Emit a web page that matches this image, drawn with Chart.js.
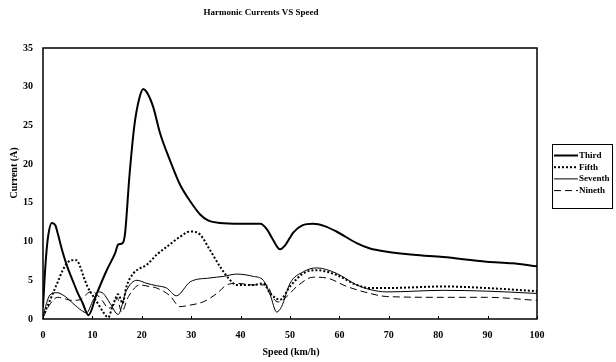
<!DOCTYPE html>
<html>
<head>
<meta charset="utf-8">
<script src="https://cdn.jsdelivr.net/npm/chart.js@4"></script>
<style>
  html, body { margin: 0; padding: 0; background: #fff; }
  canvas { display: block; }
</style>
</head>
<body>
<canvas id="chart" width="616" height="362"></canvas>
<script>
// Values
const seriesNames = ['Third', 'Fifth', 'Seventh', 'Nineth'];
const xTicks = [0, 10, 20, 30, 40, 50, 60, 70, 80, 90, 100];
const yTicks = [0, 5, 10, 15, 20, 25, 30, 35];

const thirdSpeed = [0, 0.5, 1, 1.8, 2.5, 3, 4, 5, 6, 7, 8, 9.2, 10.9, 12.9, 14.6, 15.2, 16.1, 16.6, 17.5, 18.5, 19.5, 20.3, 21, 22.3, 23.7, 25.7, 27.7, 29.8, 31.8, 33.5, 35.8, 40, 44, 45.3, 46.5, 48, 49, 50.7, 52.5, 54.7, 57, 59.4, 63.5, 66.2, 69.6, 75, 81, 89.8, 95, 100];
const thirdCurrent = [1.5, 7, 10.5, 12.4, 12.1, 11, 8.6, 6.6, 5, 3.4, 2.1, 0.5, 3.3, 6.3, 8.5, 9.6, 9.8, 11, 18.5, 25, 28.5, 29.7, 29.3, 27.4, 24, 20.5, 17.4, 15.2, 13.5, 12.7, 12.4, 12.3, 12.3, 11.6, 10.3, 9.0, 9.5, 11.2, 12.1, 12.3, 12.0, 11.3, 9.8, 9.1, 8.7, 8.3, 8.0, 7.4, 7.2, 6.8];

const fifthSpeed = [0, 1, 2, 3, 4, 5, 5.8, 6.8, 7.5, 8.2, 9, 10.2, 11.2, 12.2, 13.2, 14, 14.6, 15.2, 15.7, 16.1, 16.9, 18.3, 19.5, 21, 23, 25, 27.7, 29.8, 31.8, 33.8, 35.8, 37.5, 39.2, 42.6, 44.6, 46, 48, 50, 52.7, 55.4, 59.4, 63.5, 66.2, 69.6, 81, 89.8, 100];
const fifthCurrent = [0.3, 1.8, 3.3, 4.8, 6.3, 7.3, 7.6, 7.6, 6.8, 5.5, 4.2, 2.9, 1.9, 0.9, 0.2, 1.5, 2.5, 3.2, 2.6, 2.0, 4.2, 5.9, 6.5, 7.0, 8.3, 9.3, 10.6, 11.3, 10.9, 8.9, 6.8, 5.3, 4.4, 4.4, 4.6, 3.3, 2.5, 4.2, 5.9, 6.3, 5.7, 4.4, 4.0, 4.0, 4.2, 4.0, 3.6];

const seventhSpeed = [0, 0.7, 1.4, 2.8, 4.5, 6.1, 7.8, 8.8, 10.2, 11.2, 12.2, 13.6, 15.2, 16.9, 19, 21, 23, 25, 27, 29.8, 33.8, 36.5, 39.2, 42.6, 44.6, 46, 47.3, 48.3, 50, 52.7, 55.4, 59.4, 63.5, 66.2, 69.6, 81, 89.8, 100];
const seventhCurrent = [0.2, 2, 3.1, 3.4, 2.9, 2.0, 1.1, 0.8, 2.5, 3.5, 3.3, 2.0, 0.6, 3.7, 5.0, 4.6, 4.3, 4.0, 3.0, 4.8, 5.3, 5.5, 5.8, 5.5, 5.0, 3.1, 0.9, 1.6, 4.6, 6.1, 6.6, 5.9, 4.4, 3.8, 3.5, 3.7, 3.6, 3.3];

const ninethSpeed = [0, 1.5, 3, 4.5, 5.8, 7.5, 9, 9.9, 11, 12.2, 13.2, 14.6, 15, 15.9, 17.3, 19.6, 21.5, 23, 25.7, 27.7, 29.8, 32.4, 35.2, 37.2, 39.2, 42.6, 45.3, 46.6, 47.6, 49, 51.4, 54.7, 57.4, 61.5, 66.2, 69.6, 81, 89.8, 100];
const ninethCurrent = [0.2, 2.0, 2.8, 2.6, 2.4, 2.5, 3.3, 3.6, 3.1, 2.2, 1.4, 2.1, 2.8, 0.9, 2.9, 4.4, 4.2, 4.0, 3.0, 1.6, 1.8, 2.2, 3.3, 4.4, 4.6, 4.4, 4.4, 2.7, 2.2, 2.7, 4.2, 5.4, 5.3, 4.2, 3.3, 2.9, 2.8, 2.8, 2.4];

const FONT = '"Liberation Serif", "DejaVu Serif", serif';

function points(xs, ys) {
    return xs.map((x, i) => ({ x: x, y: ys[i] }));
}

function line(label, xs, ys, width, dash) {
    return {
        label: label,
        data: points(xs, ys),
        borderColor: '#000',
        borderWidth: width,
        borderDash: dash,
        pointRadius: 0,
        fill: false,
        cubicInterpolationMode: 'monotone'
    };
}

// Frame, inward ticks, titles and boxed legend
const decorations = {
    id: 'decorations',
    afterDatasetsDraw(chart) {
        const ctx = chart.ctx;
        const area = chart.chartArea;
        const xScale = chart.scales.x;
        ctx.save();

        ctx.strokeStyle = '#000';
        ctx.lineWidth = 1.5;
        ctx.strokeRect(area.left, area.top, area.right - area.left, area.bottom - area.top);

        ctx.lineWidth = 1;
        xTicks.forEach(v => {
            const px = Math.round(xScale.getPixelForValue(v)) + 0.5;
            ctx.beginPath();
            ctx.moveTo(px, area.bottom);
            ctx.lineTo(px, area.bottom - 3);
            ctx.stroke();
        });

        ctx.fillStyle = '#000';
        ctx.textAlign = 'center';
        ctx.textBaseline = 'middle';
        ctx.font = 'bold 9px ' + FONT;
        ctx.fillText('Harmonic Currents VS Speed', 261, 13);

        ctx.font = 'bold 10px ' + FONT;
        ctx.fillText('Speed (km/h)', 291, 352);
        ctx.save();
        ctx.translate(14, 173);
        ctx.rotate(-Math.PI / 2);
        ctx.fillText('Current (A)', 0, 0);
        ctx.restore();

        // legend
        ctx.lineWidth = 1;
        ctx.strokeRect(552.5, 144.5, 60, 64);
        ctx.font = 'bold 9px ' + FONT;
        ctx.textAlign = 'left';
        chart.data.datasets.forEach((ds, i) => {
            const y = 155.5 + i * 11.7;
            ctx.save();
            ctx.lineWidth = ds.borderWidth;
            ctx.setLineDash(ds.borderDash);
            ctx.beginPath();
            ctx.moveTo(554, y);
            ctx.lineTo(578, y);
            ctx.stroke();
            ctx.restore();
            ctx.fillText(ds.label, 579, y);
        });

        ctx.restore();
    }
};

new Chart(document.getElementById('chart'), {
    type: 'line',
    data: {
        datasets: [
            line(seriesNames[0], thirdSpeed, thirdCurrent, 2, []),
            line(seriesNames[1], fifthSpeed, fifthCurrent, 2, [2, 2]),
            line(seriesNames[2], seventhSpeed, seventhCurrent, 1, []),
            line(seriesNames[3], ninethSpeed, ninethCurrent, 1, [7, 4])
        ]
    },
    options: {
        responsive: false,
        animation: false,
        devicePixelRatio: 1,
        layout: {
            padding: { left: 0, top: 48, right: 79, bottom: 0 }
        },
        plugins: {
            legend: { display: false },
            title: { display: false },
            tooltip: { enabled: false }
        },
        scales: {
            x: {
                type: 'linear',
                min: 0,
                max: 100,
                afterFit: s => { s.height = 43; },
                afterBuildTicks: s => { s.ticks = xTicks.map(v => ({ value: v })); },
                grid: { display: false, drawTicks: false },
                border: { display: false },
                ticks: {
                    padding: 10,
                    color: '#000',
                    font: { family: FONT, size: 10, weight: 'bold' },
                    maxRotation: 0
                }
            },
            y: {
                min: 0,
                max: 35,
                afterFit: s => { s.width = 43; },
                afterBuildTicks: s => { s.ticks = yTicks.map(v => ({ value: v })); },
                grid: { display: false, drawTicks: false },
                border: { display: false },
                ticks: {
                    padding: 10,
                    color: '#000',
                    font: { family: FONT, size: 10, weight: 'bold' }
                }
            }
        }
    },
    plugins: [decorations]
});
</script>
</body>
</html>
